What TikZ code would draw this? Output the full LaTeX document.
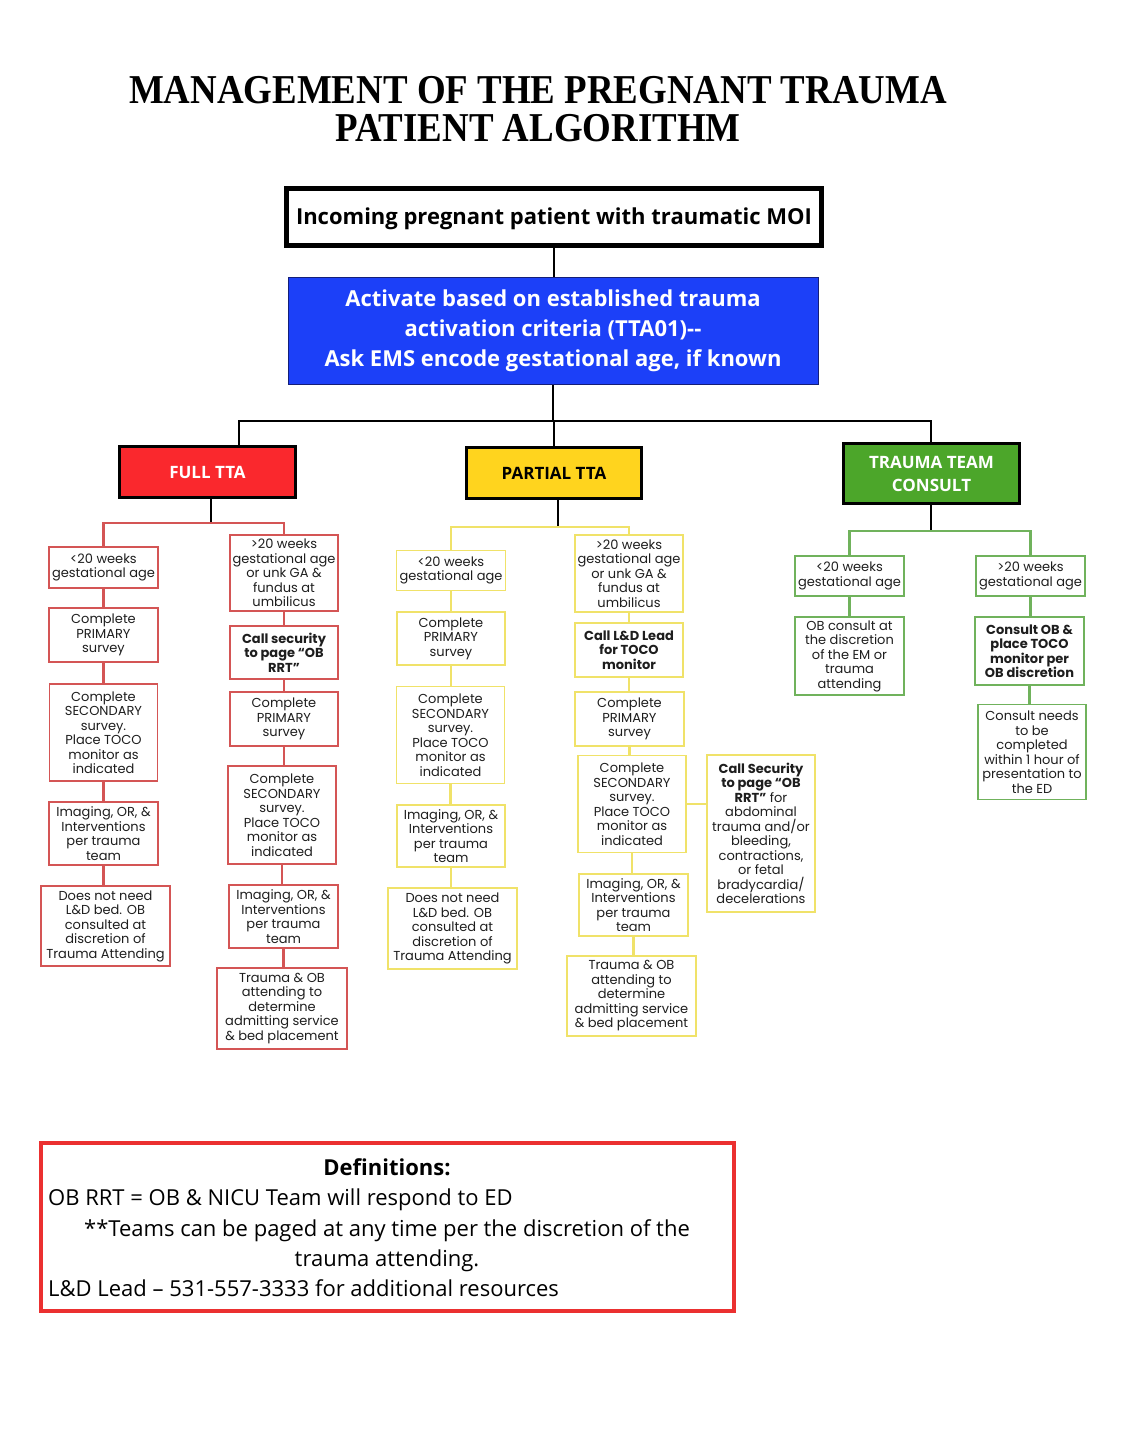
\documentclass[tikz,border=0pt]{standalone}
\usepackage{fontspec}
\usepackage{graphicx}
\setmainfont{Open Sans}
\newfontfamily\boxfont{Poppins}
\newfontfamily\titlefont{Liberation Serif}
\definecolor{redfill}{RGB}{250,40,45}
\definecolor{yellowfill}{RGB}{255,212,30}
\definecolor{greenfill}{RGB}{76,166,42}
\definecolor{bluefill}{RGB}{28,64,248}
\definecolor{redline}{RGB}{212,85,85}
\definecolor{yellowline}{RGB}{240,226,105}
\definecolor{greenline}{RGB}{112,178,92}
\definecolor{defborder}{RGB}{235,48,48}
\definecolor{boxtext}{RGB}{30,30,30}
\begin{document}
\begin{tikzpicture}[x=1pt,y=-1pt,
  sbox/.style={draw, line width=1.8pt, inner sep=0pt, align=center, text=boxtext,
    font=\boxfont\fontsize{13}{14.5}\selectfont},
  rb/.style={sbox, draw=redline},
  yb/.style={sbox, draw=yellowline},
  gb/.style={sbox, draw=greenline},
  catbox/.style={draw=black, line width=3pt, inner sep=0pt, align=center,
    font=\bfseries\fontsize{17}{23}\selectfont},
  blk/.style={draw=black, line width=1.6pt},
  rcon/.style={draw=redline, line width=2.4pt},
  ycon/.style={draw=yellowline, line width=2.4pt},
  gcon/.style={draw=greenline, line width=2.4pt},
  bb/.style={font=\boxfont\bfseries\fontsize{13}{14.5}\selectfont},
  ttl/.style={anchor=base, inner sep=0pt, font=\titlefont\bfseries\fontsize{41}{41}\selectfont}
]
\useasboundingbox (0,0) rectangle (1125,1456);
\fill[white] (0,0) rectangle (1125,1456);

% title
\node[ttl] (t1) at (538,103) {\scalebox{0.9}[1]{MANAGEMENT OF THE PREGNANT TRAUMA}};
\node[ttl] (t2) at (538,141) {\scalebox{0.9}[1]{PATIENT ALGORITHM}};

% top boxes
\node[draw=black, line width=5pt, minimum width=535pt, minimum height=57pt, inner sep=0pt,
  font=\bfseries\fontsize{22}{26}\selectfont] (inc) at (554,217)
  {\raisebox{-7.5pt}[0pt][0pt]{Incoming pregnant patient with traumatic MOI}};
\node[draw={rgb,255:red,20;green,30;blue,120}, fill=bluefill, line width=1pt, minimum width=530pt,
  minimum height=107pt, inner sep=0pt, align=center, text=white,
  font=\bfseries\fontsize{22}{30}\selectfont] (blue) at (553,331)
  {Activate based on established trauma\\activation criteria (TTA01){-}{-}\\Ask EMS encode gestational age, if known};

% categories
\node[catbox, fill=redfill, text=white, minimum width=176pt, minimum height=51pt] (full) at (207.5,472) {FULL TTA};
\node[catbox, fill=yellowfill, text=black, minimum width=175pt, minimum height=51pt] (part) at (554,473) {PARTIAL TTA};
\node[catbox, fill=greenfill, text=white, minimum width=176pt, minimum height=60pt] (tt) at (931.5,473.5) {TRAUMA TEAM\\CONSULT};

\coordinate (h1) at (239,421);
\coordinate (h2) at (931,421);
\draw[blk] (inc.south) -- (inc.south |- blue.north);
\draw[blk] (blue.south) -- (blue.south |- h1);
\draw[blk] (h1 |- full.north) -- (h1) -- (h2) -- (h2 |- tt.north);
\draw[blk] (part.north) -- (part.north |- h1);

% FULL TTA column A
\node[rb, minimum width=109pt, minimum height=41pt] (a1) at (103.5,567.5) {<20 weeks\\gestational age};
\node[rb, minimum width=109pt, minimum height=54pt] (a2) at (103.5,635) {Complete\\PRIMARY\\survey};
\node[rb, minimum width=108pt, minimum height=97pt] (a3) at (103.5,732.5) {Complete\\SECONDARY\\survey.\\Place TOCO\\monitor as\\indicated};
\node[rb, minimum width=109pt, minimum height=63pt] (a4) at (103.5,833.5) {Imaging, OR, \&\\Interventions\\per trauma\\team};
\node[rb, minimum width=129pt, minimum height=80pt] (a5) at (105.5,926) {Does not need\\L\&D bed. OB\\consulted at\\discretion of\\Trauma Attending};
% column B
\node[rb, minimum width=108pt, minimum height=76pt] (b1) at (284,573) {>20 weeks\\gestational age\\or unk GA \&\\fundus at\\umbilicus};
\node[rb, bb, minimum width=108pt, minimum height=53pt] (b2) at (284,652.5) {Call security\\to page “OB\\RRT”};
\node[rb, minimum width=108pt, minimum height=54pt] (b3) at (284,719) {Complete\\PRIMARY\\survey};
\node[rb, minimum width=108pt, minimum height=98pt] (b4) at (282,815) {Complete\\SECONDARY\\survey.\\Place TOCO\\monitor as\\indicated};
\node[rb, minimum width=109pt, minimum height=63pt] (b5) at (283.5,916.5) {Imaging, OR, \&\\Interventions\\per trauma\\team};
\node[rb, minimum width=130pt, minimum height=81pt] (b6) at (282,1008.5) {Trauma \& OB\\attending to\\determine\\admitting service\\\& bed placement};

\coordinate (fj) at (211,523);
\draw[blk] (fj |- full.south) -- (fj);
\draw[rcon] (a1.north) |- (fj) -| (b1.north);
\foreach \u/\v in {a1/a2,a2/a3,a3/a4,a4/a5,b1/b2,b2/b3,b3/b4,b4/b5,b5/b6}
  \draw[rcon] (\u.south) -- (\u.south |- \v.north);

% PARTIAL column C
\node[yb, minimum width=109pt, minimum height=40pt] (c1) at (451,570.5) {<20 weeks\\gestational age};
\node[yb, minimum width=108pt, minimum height=53pt] (c2) at (451,638.5) {Complete\\PRIMARY\\survey};
\node[yb, minimum width=108pt, minimum height=97pt] (c3) at (450.5,735) {Complete\\SECONDARY\\survey.\\Place TOCO\\monitor as\\indicated};
\node[yb, minimum width=108pt, minimum height=62pt] (c4) at (451,836) {Imaging, OR, \&\\Interventions\\per trauma\\team};
\node[yb, minimum width=129pt, minimum height=81pt] (c5) at (452.5,928.5) {Does not need\\L\&D bed. OB\\consulted at\\discretion of\\Trauma Attending};
% column D
\node[yb, minimum width=108pt, minimum height=77pt] (d1) at (629,573.5) {>20 weeks\\gestational age\\or unk GA \&\\fundus at\\umbilicus};
\node[yb, bb, minimum width=108pt, minimum height=54pt] (d2) at (629,650) {Call L\&D Lead\\for TOCO\\monitor};
\node[yb, minimum width=109pt, minimum height=54pt] (d3) at (629.5,719) {Complete\\PRIMARY\\survey};
\node[yb, minimum width=108pt, minimum height=97pt] (d4) at (632,804) {Complete\\SECONDARY\\survey.\\Place TOCO\\monitor as\\indicated};
\node[yb, minimum width=109pt, minimum height=62pt] (d5) at (633.5,905) {Imaging, OR, \&\\Interventions\\per trauma\\team};
\node[yb, minimum width=129pt, minimum height=80pt] (d6) at (631.5,996) {Trauma \& OB\\attending to\\determine\\admitting service\\\& bed placement};
\node[yb, minimum width=108pt, minimum height=157pt] (e) at (761,833.5) {\textbf{Call Security}\\\textbf{to page “OB}\\\textbf{RRT”} for\\abdominal\\trauma and/or\\bleeding,\\contractions,\\or fetal\\bradycardia/\\decelerations};

\coordinate (pj) at (558,527);
\draw[blk] (pj |- part.south) -- (pj);
\draw[ycon] (c1.north) |- (pj) -| (d1.north);
\foreach \u/\v in {c1/c2,c2/c3,c3/c4,c4/c5,d1/d2,d2/d3,d3/d4,d4/d5,d5/d6}
  \draw[ycon] (\u.south) -- (\u.south |- \v.north);
\draw[ycon] (d4.east) -- (d4.east -| e.west);

% TRAUMA TEAM CONSULT
\node[gb, minimum width=109pt, minimum height=40pt] (f1) at (849.5,576) {<20 weeks\\gestational age};
\node[gb, minimum width=109pt, minimum height=78pt] (f2) at (849.5,656) {OB consult at\\the discretion\\of the EM or\\trauma\\attending};
\node[gb, minimum width=109pt, minimum height=40pt] (g1) at (1030.5,576) {>20 weeks\\gestational age};
\node[gb, bb, minimum width=109pt, minimum height=68pt] (g2) at (1029.5,651) {Consult OB \&\\place TOCO\\monitor per\\OB discretion};
\node[gb, minimum width=108pt, minimum height=95pt] (g3) at (1032,752) {Consult needs\\to be\\completed\\within 1 hour of\\presentation to\\the ED};

\coordinate (tj) at (931,531);
\draw[blk] (tj |- tt.south) -- (tj);
\draw[gcon] (f1.north) |- (tj) -| (g1.north);
\foreach \u/\v in {f1/f2,g1/g2,g2/g3}
  \draw[gcon] (\u.south) -- (\u.south |- \v.north);

% definitions
\node[draw=defborder, line width=4pt, minimum width=693pt, minimum height=168pt, inner sep=0pt] (defs) at (387.5,1227) {};
\begin{scope}[every node/.style={font=\fontsize{22}{26}\selectfont, inner sep=0pt}]
\node[anchor=base, font=\bfseries\fontsize{22}{26}\selectfont] (dt) at (387,1175) {Definitions:};
\node[anchor=base west] (dl1) at (48,1205) {OB RRT = OB \& NICU Team will respond to ED};
\node[anchor=base] (dl2) at (387,1236) {**Teams can be paged at any time per the discretion of the};
\node[anchor=base] (dl3) at (387,1266) {trauma attending.};
\node[anchor=base west] (dl4) at (48,1296) {L\&D Lead – 531-557-3333 for additional resources};
\end{scope}
\end{tikzpicture}
\end{document}
